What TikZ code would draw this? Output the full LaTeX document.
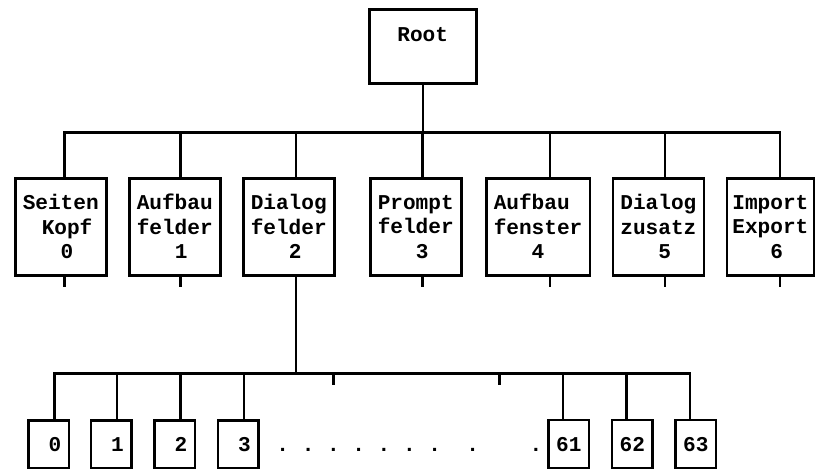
\documentclass[tikz,border=0pt]{standalone}
\usepackage{fontspec}
\setmonofont{Liberation Mono}
\usepackage{tikz}
\usetikzlibrary{positioning, calc}

\begin{document}
\begin{tikzpicture}[
    x=1pt, y=-1pt,
    node distance=20.5pt,
    every node/.style={font=\ttfamily\bfseries\fontsize{21.1}{24.5}\selectfont},
    rootbox/.style={rectangle, draw, line width=2.5pt, minimum width=107pt, minimum height=74pt, align=center, anchor=north west},
    group/.style={rectangle, draw, line width=2.5pt, minimum width=91pt, minimum height=97pt, inner xsep=7.5pt, align=left},
    leaf/.style={rectangle, draw, line width=2.5pt, minimum width=40.5pt, minimum height=48pt},
    link/.style={line width=2.5pt}
]
    \useasboundingbox (0,0) rectangle (815,469);

    % Root
    \node (root) [rootbox] at (368,8) {Root\\\mbox{}};

    % Groups
    \node (s0) [group, anchor=north west] at (14,177) {Seiten\\\hspace*{0.9em}Kopf\\\phantom{000}0};
    \node (s1) [group, right=of s0] {Aufbau\\felder\\\phantom{000}1};
    \node (s2) [group, right=of s1] {Dialog\\felder\\\phantom{000}2};
    \node (s3) [group, right=33.5pt of s2] {Prompt\\felder\\\phantom{000}3};
    \node (s4) [group, right=22.5pt of s3] {Aufbau\\fenster\\\phantom{000}4};
    \node (s5) [group, right=of s4] {Dialog\\zusatz\\\phantom{000}5};
    \node (s6) [group, right=of s5, minimum width=87pt, inner xsep=5.5pt] {Import\\Export\\\phantom{000}6};

    % Fields of group 2
    \node (b0) [leaf, anchor=north west] at (27,419) {\phantom{0}0};
    \node (b1) [leaf, right=19.5pt of b0] {\phantom{0}1};
    \node (b2) [leaf, right=of b1] {\phantom{0}2};
    \node (b3) [leaf, right=of b2] {\phantom{0}3};
    \node (dots) [inner sep=0pt, base right=16.75pt of b3] {.~.~.~.~.~.~.~~.~~~~.};
    \node (b61) [leaf, base right=4.75pt of dots] {61};
    \node (b62) [leaf, right=of b61] {62};
    \node (b63) [leaf, right=of b62] {63};

    % Connections
    \coordinate (hub) at ($(root.south)+(0,48)$);
    \coordinate (fork) at ($(s2.south)+(7,97)$);
    \draw [link] (root.south) -- (hub);
    \foreach \n/\dx in {s0/3.5, s1/5.5, s2/7, s3/6.5, s4/12, s5/6.5, s6/9.5} {
        \draw [link] (hub) -| ($(\n.north)+(\dx,0)$);
        \draw [link] ($(\n.south)+(\dx,0)$) -- ++(0,10);
    }
    \draw [link] ($(s2.south)+(7,0)$) -- (fork);
    \foreach \n/\dx in {b0/6, b1/6, b2/6, b3/6, b61/-6, b62/-6, b63/-6}
        \draw [link] (fork) -| ($(\n.north)+(\dx,0)$);
    \draw [link] ($(fork)+(37.5,0)$) -- ++(0,11);
    \draw [link] ($(fork)+(203.5,0)$) -- ++(0,11);
\end{tikzpicture}
\end{document}
